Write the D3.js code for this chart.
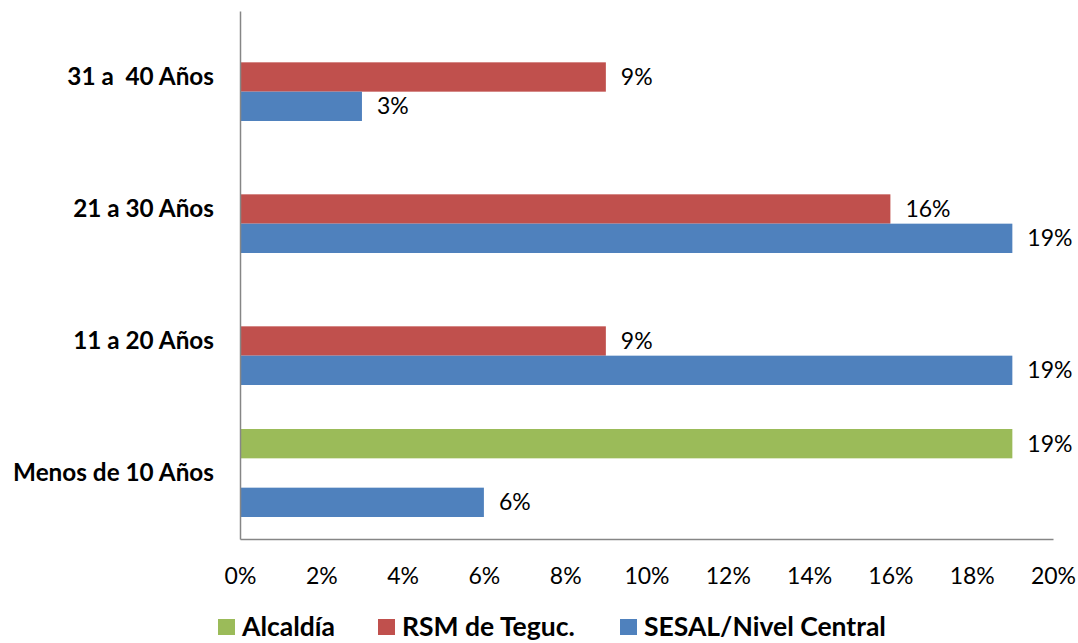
<!DOCTYPE html>
<html><head><meta charset="utf-8">
<script src="https://cdn.jsdelivr.net/npm/d3@7"></script>
<style>body{margin:0;background:#fff}svg{display:block}</style>
</head><body>
<svg id="c" width="1078" height="643"></svg>
<script>
const categories = ["Menos de 10 Años", "11 a 20 Años", "21 a 30 Años", "31 a  40 Años"];
const seriesNames = ["Alcaldía", "RSM de Teguc.", "SESAL/Nivel Central"];
const alcaldia = [19, null, null, null];
const rsm = [null, 9, 16, 9];
const sesal = [6, 19, 19, 3];
const xTicks = [0, 2, 4, 6, 8, 10, 12, 14, 16, 18, 20];
const colors = ["#9BBB59", "#C0504D", "#4F81BD"];

const FONT = "Lato, 'Open Sans', sans-serif";
const svg = d3.select("#c");
const pLeft = 240, pRight = 1053, pTop = 11, pBottom = 539;

const x = d3.scaleLinear().domain([0, 20]).range([pLeft, pRight]);
const y = d3.scaleBand().domain(categories.slice().reverse()).range([pTop, pBottom]);
const ySub = d3.scaleBand().domain(seriesNames).range([0, y.bandwidth()]).paddingInner(0).paddingOuter(0.75);

const seriesVals = [alcaldia, rsm, sesal];
const data = [];
categories.forEach((c, i) => {
  seriesNames.forEach((s, j) => {
    const v = seriesVals[j][i];
    if (v != null) data.push({c, s, v, color: colors[j]});
  });
});

svg.append("g").selectAll("rect").data(data).join("rect")
  .attr("x", x(0))
  .attr("y", d => y(d.c) + ySub(d.s))
  .attr("width", d => x(d.v) - x(0))
  .attr("height", ySub.bandwidth())
  .attr("fill", d => d.color);

svg.append("g").selectAll("text").data(data).join("text")
  .attr("x", d => x(d.v) + 15)
  .attr("y", d => y(d.c) + ySub(d.s) + ySub.bandwidth() / 2)
  .attr("dy", "0.35em")
  .attr("font-family", FONT)
  .attr("font-size", 23)
  .attr("fill", "#000")
  .text(d => d.v + "%");

// x axis
const xAxis = svg.append("g").attr("transform", `translate(0,${pBottom})`)
  .call(d3.axisBottom(x).tickValues(xTicks).tickSize(0).tickPadding(29).tickFormat(d => d + "%"));
xAxis.select(".domain").attr("stroke", "#868686").attr("stroke-width", 1.5);
xAxis.selectAll("text").attr("font-family", FONT).attr("font-size", 23).attr("fill", "#000");

// y axis
const yAxis = svg.append("g").attr("transform", `translate(${pLeft},0)`)
  .call(d3.axisLeft(y).tickSize(0).tickPadding(26));
yAxis.select(".domain").attr("stroke", "#868686").attr("stroke-width", 1.5);
yAxis.selectAll("text").attr("font-family", FONT).attr("font-size", 24.3).attr("font-weight", "bold")
  .attr("fill", "#000").style("white-space", "pre");

// legend
const legendX = [218, 378, 620];
const lg = svg.append("g").selectAll("g").data(seriesNames).join("g")
  .attr("transform", (d, i) => `translate(${legendX[i]},619)`);
lg.append("rect").attr("width", 17).attr("height", 16).attr("fill", (d, i) => colors[i]);
lg.append("text").attr("x", 24).attr("y", 17)
  .attr("font-family", FONT).attr("font-size", 26.5).attr("font-weight", "bold").attr("fill", "#000")
  .text(d => d);
</script>
</body></html>
